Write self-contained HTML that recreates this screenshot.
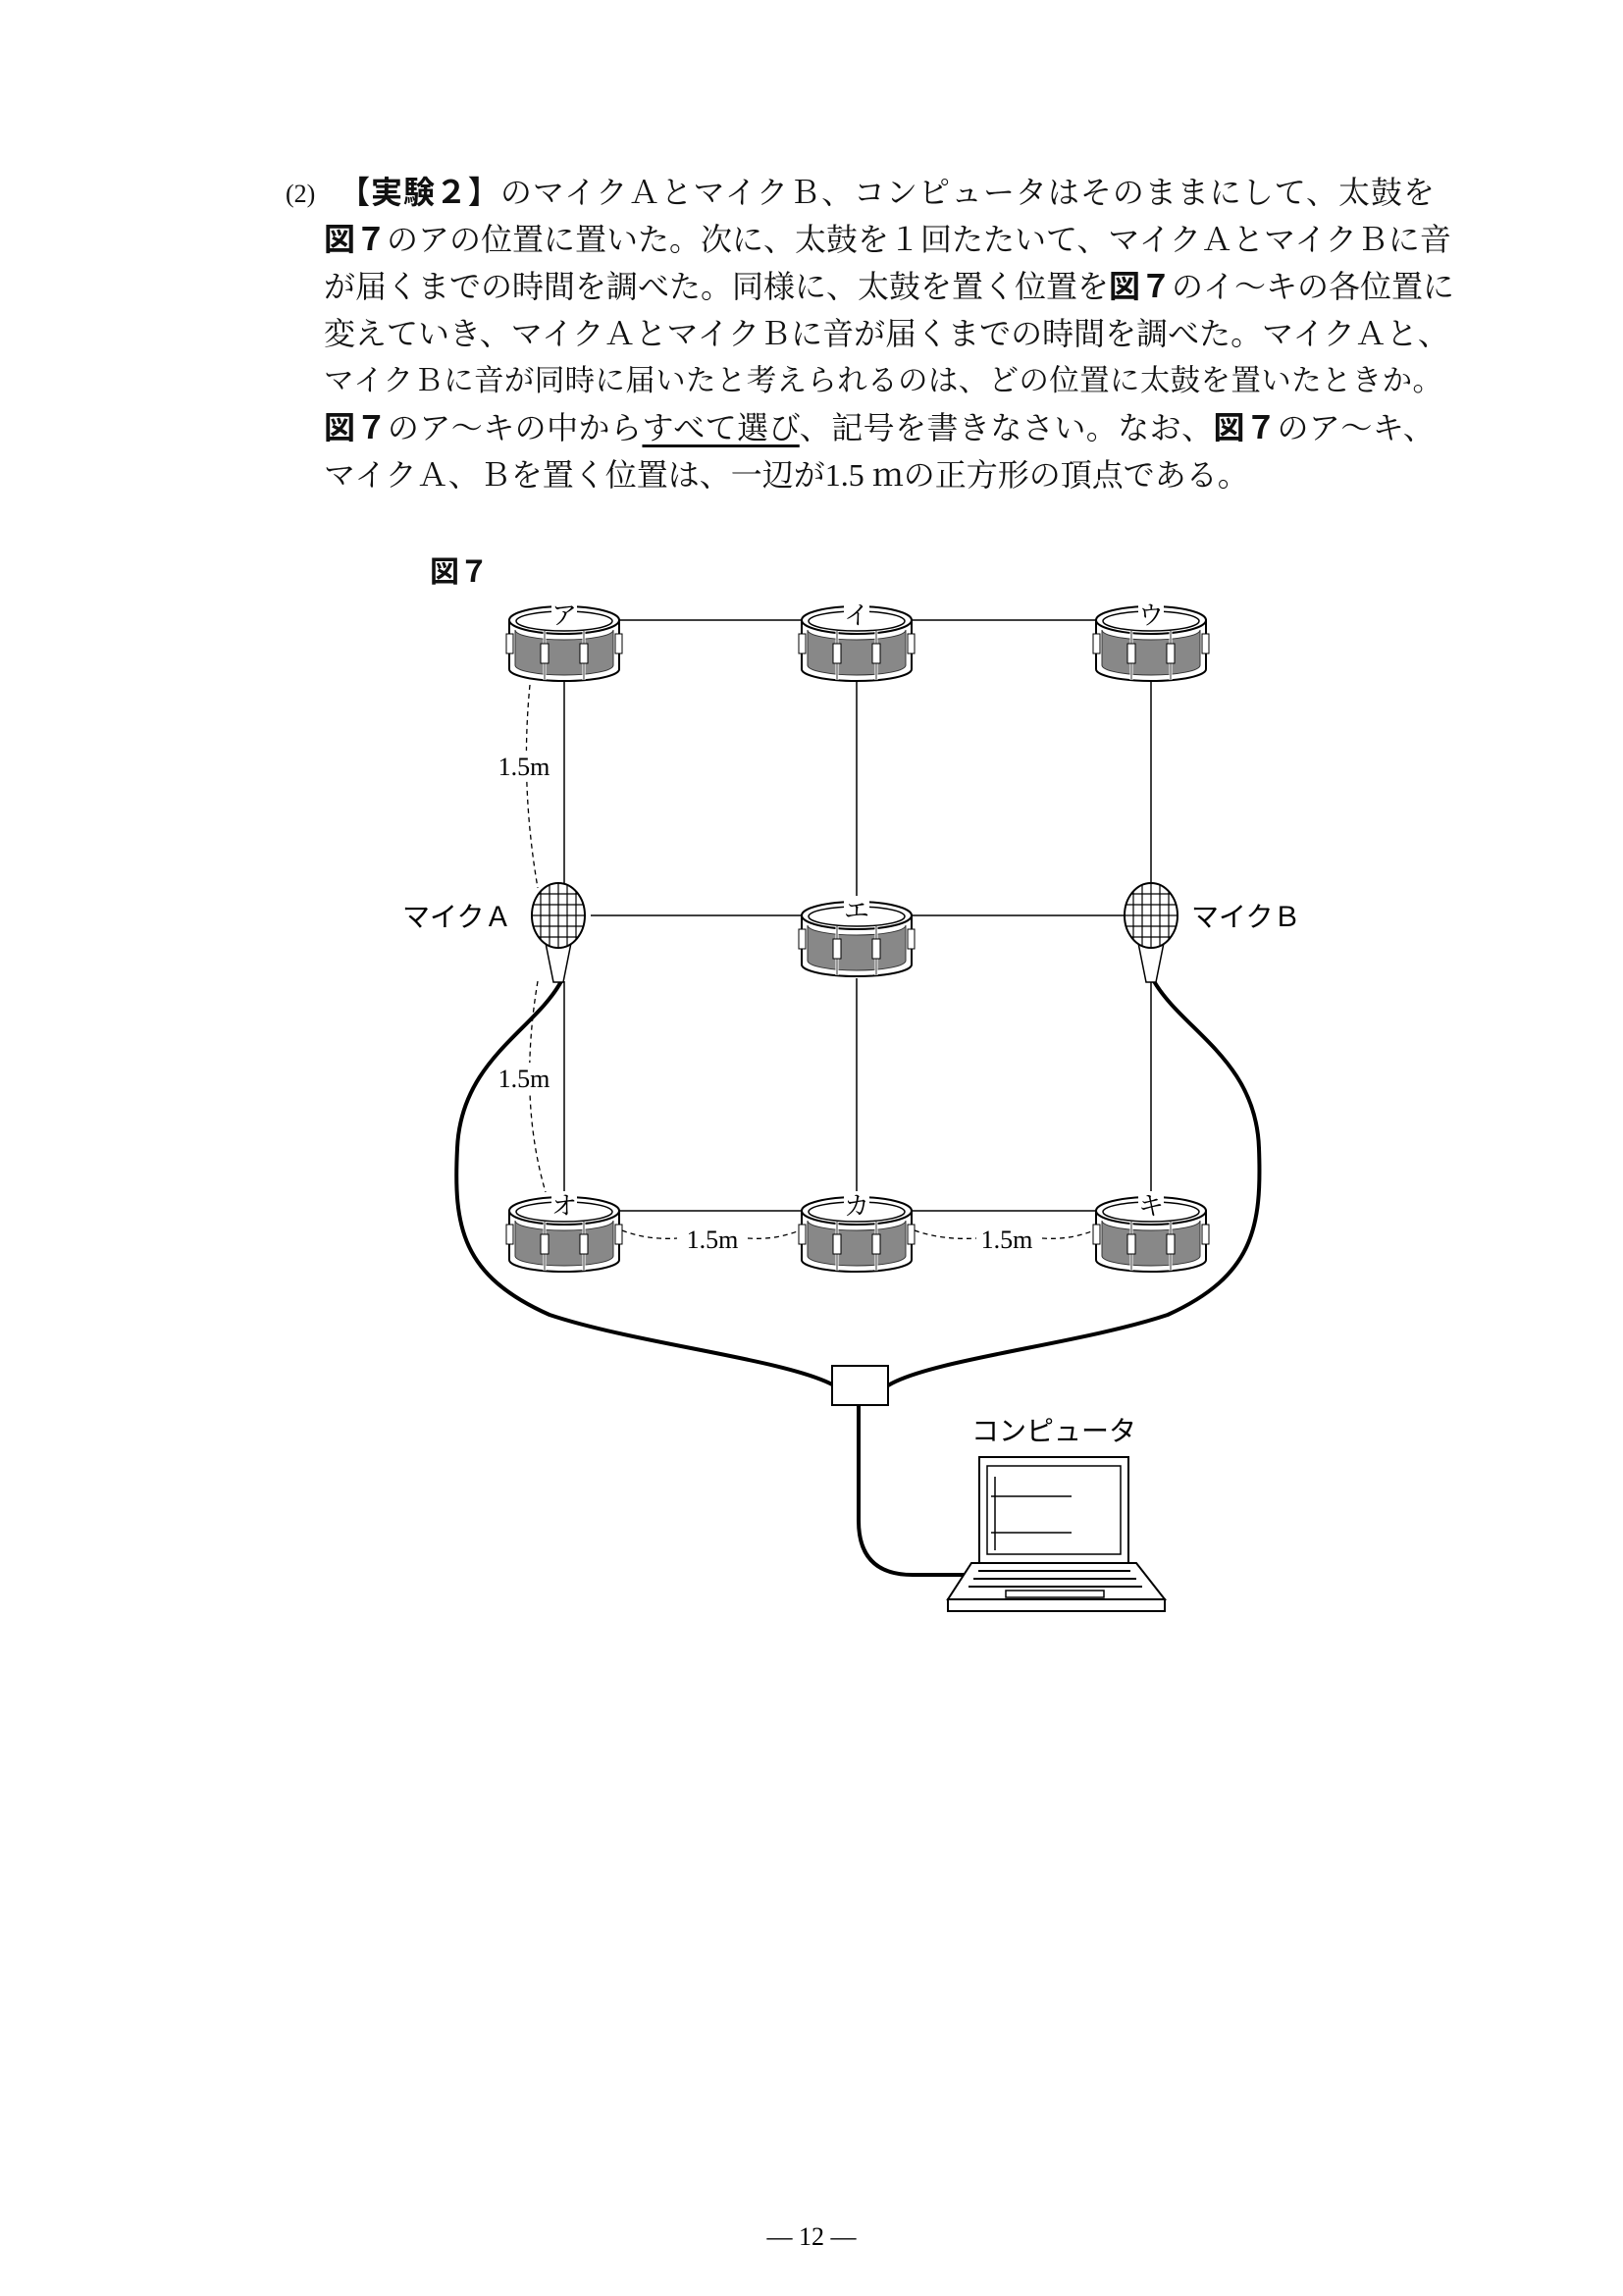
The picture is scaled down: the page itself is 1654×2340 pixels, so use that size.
<!DOCTYPE html>
<html><head><meta charset="utf-8">
<style>
html,body{margin:0;padding:0;background:#fff;}
body{width:1654px;height:2340px;position:relative;overflow:hidden;font-family:"Liberation Serif","Noto Serif CJK SC","Noto Sans CJK JP",serif;color:#111;}
.l{position:absolute;font-size:32px;line-height:40px;white-space:nowrap;text-align:justify;text-align-last:justify;}
.g{font-family:"Liberation Sans","Noto Sans CJK JP",sans-serif;font-weight:bold;}
svg{position:absolute;left:0;top:0;}
</style></head><body>
<div class="l" style="left:291px;top:178px;font-size:26px;">(2)</div>
<div class="l" style="left:345px;top:176px;width:1117px;"><span class="g">【実験２】</span>のマイクＡとマイクＢ、コンピュータはそのままにして、太鼓を</div>
<div class="l" style="left:330px;top:224px;width:1132px;"><span class="g">図７</span>のアの位置に置いた。次に、太鼓を１回たたいて、マイクＡとマイクＢに音</div>
<div class="l" style="left:330px;top:272px;width:1132px;">が届くまでの時間を調べた。同様に、太鼓を置く位置を<span class="g">図７</span>のイ～キの各位置に</div>
<div class="l" style="left:330px;top:320px;width:1115px;">変えていき、マイクＡとマイクＢに音が届くまでの時間を調べた。マイクＡと、</div>
<div class="l" style="left:330px;top:368px;width:1140px;font-size:30.5px;">マイクＢに音が同時に届いたと考えられるのは、どの位置に太鼓を置いたときか。</div>
<div class="l" style="left:330px;top:416px;width:1132px;"><span class="g">図７</span>のア～キの中から<span style="text-decoration:underline;text-underline-offset:6px;text-decoration-thickness:3px;">すべて選び</span>、記号を書きなさい。なお、<span class="g">図７</span>のア～キ、</div>
<div class="l" style="left:330px;top:464px;width:927px;">マイクＡ、Ｂを置く位置は、一辺が1.5 ｍの正方形の頂点である。</div>
<div class="l g" style="left:438px;top:564px;font-size:30px;">図７</div>

<svg width="1654" height="2340" viewBox="0 0 1654 2340">
<defs>
<g id="drum">
<path d="M-56,14 L-56,64 A56,12 0 0 0 56,64 L56,14 Z" fill="#fff" stroke="#000" stroke-width="2"/>
<path d="M-50,24 L-50,60 A50,10 0 0 0 50,60 L50,24 A50,10 0 0 1 -50,24 Z" fill="#888" stroke="#333" stroke-width="1"/>
<ellipse cx="0" cy="14" rx="56" ry="14" fill="#fff" stroke="#000" stroke-width="2"/>
<ellipse cx="0" cy="15" rx="49" ry="10" fill="#fff" stroke="#000" stroke-width="1.5"/>
<line x1="-20" y1="25" x2="-20" y2="75" stroke="#fff" stroke-width="3"/>
<line x1="20" y1="25" x2="20" y2="75" stroke="#fff" stroke-width="3"/>
<line x1="-20" y1="25" x2="-20" y2="75" stroke="#000" stroke-width="0.8"/>
<line x1="20" y1="25" x2="20" y2="75" stroke="#000" stroke-width="0.8"/>
<rect x="-24" y="38" width="8" height="20" fill="#fff" stroke="#000" stroke-width="1"/>
<rect x="16" y="38" width="8" height="20" fill="#fff" stroke="#000" stroke-width="1"/>
<rect x="-59" y="28" width="7" height="20" fill="#fff" stroke="#000" stroke-width="1"/>
<rect x="52" y="28" width="7" height="20" fill="#fff" stroke="#000" stroke-width="1"/>
<rect x="-13" y="-6" width="26" height="16" fill="#fff"/>
</g>
<g id="mic">
<path d="M-13,28 L-5,68 L5,68 L13,28 Z" fill="#fff" stroke="#000" stroke-width="1.5"/>
<ellipse cx="0" cy="0" rx="27" ry="33" fill="#fff" stroke="#000" stroke-width="2"/>
<g stroke="#000" stroke-width="1.2">
<line x1="-18" y1="-25" x2="-18" y2="25"/><line x1="-9" y1="-31" x2="-9" y2="31"/><line x1="0" y1="-33" x2="0" y2="33"/><line x1="9" y1="-31" x2="9" y2="31"/><line x1="18" y1="-25" x2="18" y2="25"/>
<line x1="-20" y1="-22" x2="20" y2="-22"/><line x1="-25" y1="-11" x2="25" y2="-11"/><line x1="-27" y1="0" x2="27" y2="0"/><line x1="-25" y1="11" x2="25" y2="11"/><line x1="-20" y1="22" x2="20" y2="22"/>
</g>
</g>
</defs>
<g stroke="#000" stroke-width="1.5" fill="none">
<line x1="631" y1="632" x2="817" y2="632"/>
<line x1="929" y1="632" x2="1117" y2="632"/>
<line x1="575" y1="695" x2="575" y2="900"/>
<line x1="873" y1="695" x2="873" y2="922"/>
<line x1="1173" y1="695" x2="1173" y2="900"/>
<line x1="602" y1="933" x2="817" y2="933"/>
<line x1="929" y1="933" x2="1146" y2="933"/>
<line x1="575" y1="1000" x2="575" y2="1220"/>
<line x1="873" y1="997" x2="873" y2="1220"/>
<line x1="1173" y1="1000" x2="1173" y2="1220"/>
<line x1="631" y1="1234" x2="817" y2="1234"/>
<line x1="929" y1="1234" x2="1117" y2="1234"/>
</g>
<g stroke="#000" stroke-width="1.3" fill="none" stroke-dasharray="5,4">
<path d="M540,698 Q530,800 548,905"/>
<path d="M548,1000 Q528,1120 556,1215"/>
<path d="M634,1254 Q660,1264 690,1262"/>
<path d="M762,1262 Q790,1264 815,1254"/>
<path d="M932,1254 Q960,1264 995,1262"/>
<path d="M1062,1262 Q1090,1264 1115,1254"/>
</g>
<g stroke="#000" stroke-width="4" fill="none">
<path d="M572,1000 C545,1050 470,1080 466,1170 C462,1250 470,1300 560,1340 C650,1370 800,1385 850,1412"/>
<path d="M1176,1000 C1205,1050 1280,1080 1283,1170 C1286,1250 1278,1300 1190,1340 C1100,1370 950,1385 905,1412"/>
<path d="M875,1432 L875,1550 Q875,1605 930,1605 L985,1605"/>
</g>
<rect x="848" y="1392" width="57" height="40" fill="#fff" stroke="#000" stroke-width="2"/>
<g stroke="#000" fill="#fff">
<rect x="998" y="1485" width="152" height="108" stroke-width="2"/>
<rect x="1006" y="1494" width="136" height="90" stroke-width="1.5"/>
<line x1="1014" y1="1505" x2="1014" y2="1580" stroke-width="1.5"/>
<line x1="1010" y1="1525" x2="1092" y2="1525" stroke-width="1.5"/>
<line x1="1010" y1="1562" x2="1092" y2="1562" stroke-width="1.5"/>
<path d="M990,1593 L1158,1593 L1187,1630 L966,1630 Z" stroke-width="2"/>
<rect x="966" y="1630" width="221" height="12" stroke-width="2"/>
<line x1="997" y1="1601" x2="1152" y2="1601" stroke-width="2"/>
<line x1="992" y1="1609" x2="1158" y2="1609" stroke-width="2"/>
<line x1="987" y1="1617" x2="1164" y2="1617" stroke-width="2"/>
<rect x="1025" y="1621" width="100" height="7" stroke-width="1.5"/>
</g>
<use href="#drum" x="575" y="618"/>
<use href="#drum" x="873" y="618"/>
<use href="#drum" x="1173" y="618"/>
<use href="#drum" x="873" y="919"/>
<use href="#drum" x="575" y="1220"/>
<use href="#drum" x="873" y="1220"/>
<use href="#drum" x="1173" y="1220"/>
<use href="#mic" x="569" y="933"/>
<use href="#mic" x="1173" y="933"/>
<g font-family="Liberation Serif,Noto Serif CJK SC,serif" font-size="26" text-anchor="middle" fill="#000">
<text x="575" y="636">ア</text><text x="873" y="636">イ</text><text x="1173" y="636">ウ</text>
<text x="873" y="937">エ</text>
<text x="575" y="1238">オ</text><text x="873" y="1238">カ</text><text x="1173" y="1238">キ</text>
</g>
<g font-family="Liberation Serif,serif" font-size="26" fill="#000" text-anchor="middle">
<rect x="508" y="765" width="56" height="30" fill="#fff"/>
<text x="534" y="790">1.5m</text>
<rect x="508" y="1083" width="56" height="30" fill="#fff"/>
<text x="534" y="1108">1.5m</text>
<text x="726" y="1272">1.5m</text>
<text x="1026" y="1272">1.5m</text>
</g>
<g font-family="Liberation Sans,Noto Sans CJK JP,sans-serif" font-size="28" fill="#000">
<text x="410" y="944">マイクＡ</text>
<text x="1214" y="944">マイクＢ</text>
<text x="990" y="1468">コンピュータ</text>
</g>
<text x="827" y="2288" font-family="Liberation Serif,Noto Serif CJK SC,serif" font-size="26" text-anchor="middle" fill="#000">— 12 —</text>
</svg>
</body></html>
